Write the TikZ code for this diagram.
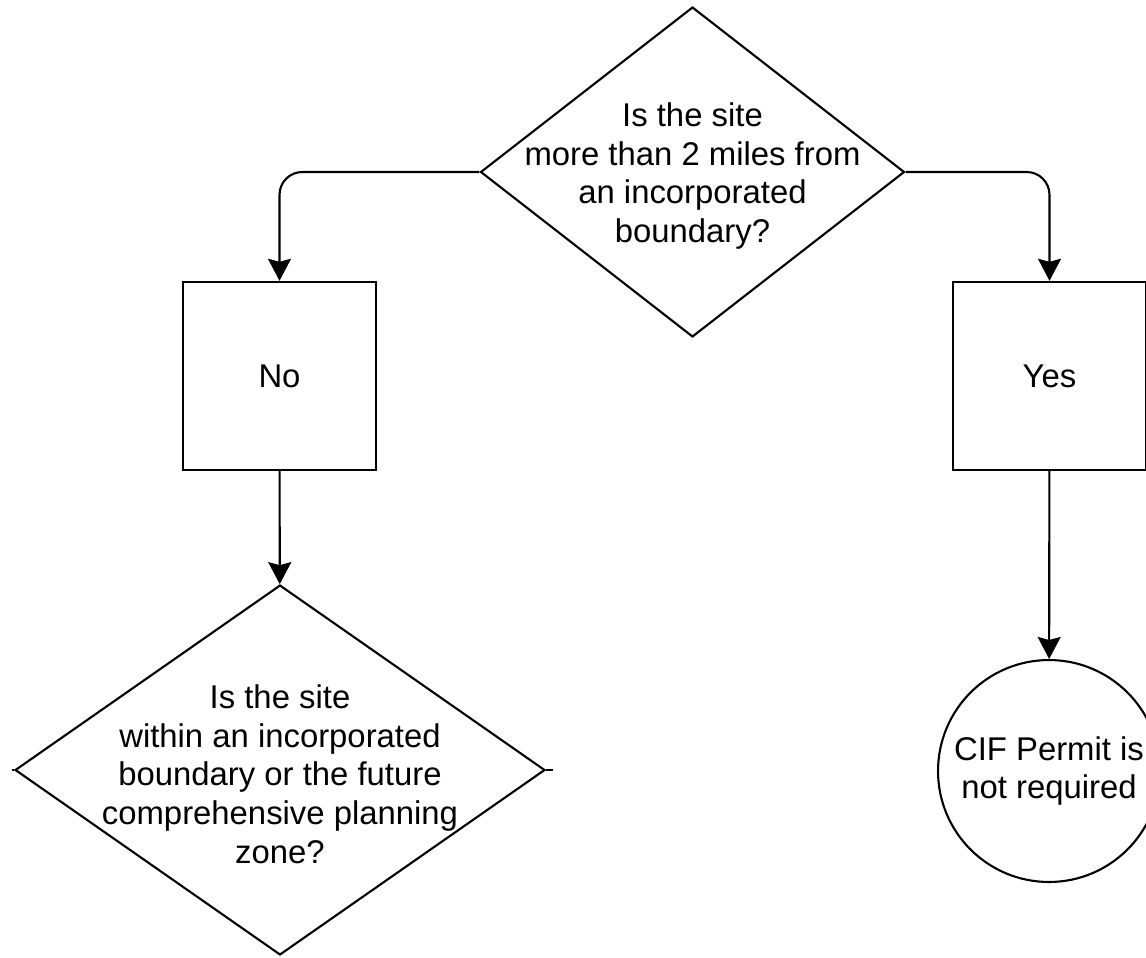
\documentclass[tikz,border=0pt]{standalone}
\usepackage{fontspec}
\setmainfont{Liberation Sans}
\usetikzlibrary{shapes.geometric,arrows.meta}

\begin{document}
\begin{tikzpicture}[x=0.02cm,y=-0.02cm]
		\tikzset{decision/.style = {shape=diamond,draw,line width=1.2pt,inner sep=0pt}}
		\tikzset{answer/.style = {shape=rectangle,draw,line width=1.4pt,minimum width=3.86cm,minimum height=3.76cm,font=\fontsize{18.7}{22}\selectfont}}
		\tikzset{label text/.style = {align=center,font=\fontsize{18.7}{22}\selectfont}}
		\tikzset{flow/.style = {draw,line width=1.2pt,-{Stealth[length=0.44cm,width=0.46cm,inset=0.06cm]}}}
		\clip (0,0) rectangle (1146,957);
		% question nodes
		\node[decision,minimum width=8.48cm,minimum height=6.6cm] (q1) at (692.5,172) {};
		\node[label text] (q1text) at (692.5,176) {Is the site\\more than 2 miles from\\an incorporated\\boundary?};
		\node[answer] (no) at (279.5,376) {No};
		\node[answer] (yes) at (1049.5,376) {Yes};
		\node[decision,minimum width=10.6cm,minimum height=7.4cm] (q2) at (280,770) {};
		\node[label text] (q2text) at (280,774) {Is the site\\within an incorporated\\boundary or the future\\comprehensive planning\\zone?};
		\node[shape=circle,draw,line width=1.2pt,minimum size=4.44cm,label text] (done) at (1049,771) {CIF Permit is\\not required};
		\coordinate (lstub) at (12,770);
		\coordinate (rstub) at (553,770);
		% connectors
		\path[flow,rounded corners=13pt] (q1.west) -| (no.north);
		\path[flow,rounded corners=13pt] (q1.east) -| (yes.north);
		\path[flow] (no) edge (q2);
		\path[flow] (yes) edge (done);
		\draw[line width=1.2pt] (q2.west) -- (lstub);
		\draw[line width=1.2pt] (q2.east) -- (rstub);
	\end{tikzpicture}
\end{document}
